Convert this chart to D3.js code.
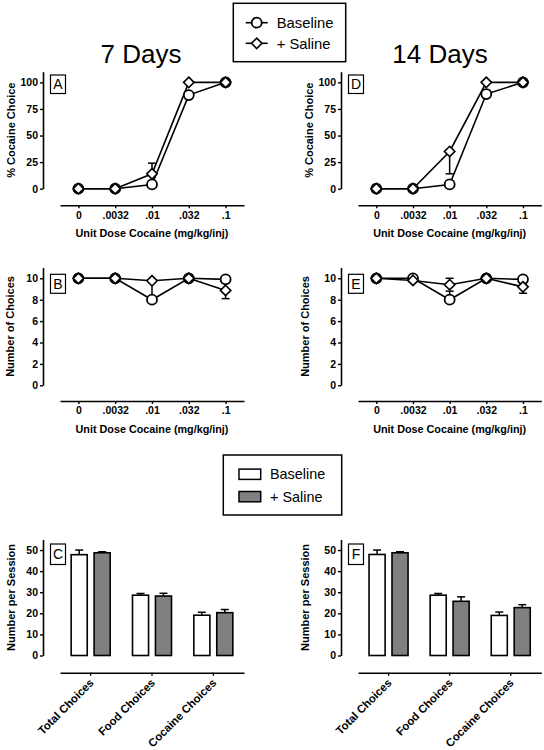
<!DOCTYPE html>
<html><head><meta charset="utf-8">
<script src="https://cdn.jsdelivr.net/npm/d3@7"></script>
<style>
body{margin:0;background:#fff}
svg{display:block}
text{font-family:"Liberation Sans",Arial,Helvetica,sans-serif}
</style>
</head><body>
<svg id="chart" width="544" height="750"></svg>
<script>
// ---------- DATA ----------
const doses = ["0", ".0032", ".01", ".032", ".1"];
const seriesNames = ["Baseline", "+ Saline"];
const periodTitles = ["7 Days", "14 Days"];

// % cocaine choice
const pctBase7 = [0, 0, 4, 88, 100];
const pctSal7 = [0, 0, 14, 100, 100];
const pctBaseErr7 = [0, 0, 0, 0, 0];
const pctSalErr7 = [0, 0, 10, 0, 0];
const pctBase14 = [0, 0, 4, 89, 100];
const pctSal14 = [0, 0, 35, 100, 100];
const pctBaseErr14 = [0, 0, 0, 0, 0];
const pctSalErr14 = [0, 0, -21, 0, 0];

// number of choices
const numBase7 = [10, 10, 8, 10, 9.9];
const numSal7 = [10, 10, 9.77, 10, 8.87];
const numBaseErr7 = [0, 0, 1.7, 0, 0];
const numSalErr7 = [0, 0, 0, 0, -0.77];
const numBase14 = [10, 10, 8, 10, 9.9];
const numSal14 = [10, 9.8, 9.4, 10, 9.2];
const numBaseErr14 = [0, 0, 0.8, 0, 0];
const numSalErr14 = [0, 0, 0.6, 0, -0.6];

// number per session
const choiceTypes = ["Total Choices", "Food Choices", "Cocaine Choices"];
const sessBase7 = [47.8, 28.6, 19.1];
const sessBaseErr7 = [2.2, 0.8, 1.4];
const sessSal7 = [48.7, 28.2, 20.3];
const sessSalErr7 = [0.5, 1.3, 1.5];
const sessBase14 = [47.9, 28.6, 19.0];
const sessBaseErr14 = [2.1, 0.8, 1.6];
const sessSal14 = [48.7, 25.7, 22.7];
const sessSalErr14 = [0.5, 2.1, 1.4];

const pctTicks = [0, 25, 50, 75, 100];
const numTicks = [0, 2, 4, 6, 8, 10];
const sessTicks = [0, 10, 20, 30, 40, 50];

const xAxisTitle = "Unit Dose Cocaine (mg/kg/inj)";
const yTitles = ["% Cocaine Choice", "Number of Choices", "Number per Session"];

// ---------- LAYOUT ----------
const FONT = '"Liberation Sans",Arial,Helvetica,sans-serif';
const svg = d3.select("#chart");
const cols = [
  {ax: 43, x0: 60, x1: 244},
  {ax: 341, x0: 358, x1: 541.3}
];
const rows = {
  pct:  {y0: 188.7, yTop: 71.7, max: 110, xAxisY: 205.3, boxY: 75, boxH: 18.5},
  num:  {y0: 385.3, yTop: 267.6, max: 11, xAxisY: 401, boxY: 274.3, boxH: 19},
  sess: {y0: 655.5, yTop: 539.5, max: 55, xAxisY: 672.7, boxY: 544, boxH: 20.5}
};
const titleOffsets = {pct: [31.5, 32], num: [33, 36], sess: [32, 36]};

function styleAxis(g) {
  g.selectAll("path.domain").attr("stroke", "#000").attr("stroke-width", 1.6);
  g.selectAll(".tick line").attr("stroke", "#000").attr("stroke-width", 1.4);
  g.selectAll(".tick text").attr("fill", "#000").attr("font-family", FONT)
    .attr("font-weight", "bold").attr("font-size", 10.5);
}

function yAxisFor(rowKey, col, ticks, colIdx) {
  const r = rows[rowKey];
  const y = d3.scaleLinear().domain([0, r.max]).range([r.y0, r.yTop]);
  const g = svg.append("g").attr("transform", `translate(${col.ax},0)`)
    .call(d3.axisLeft(y).tickValues(ticks).tickSize(3).tickSizeOuter(0).tickPadding(2));
  styleAxis(g);
  const off = titleOffsets[rowKey][colIdx];
  const cy = (r.y0 + r.yTop) / 2;
  svg.append("text")
    .attr("transform", `translate(${col.ax - off},${cy}) rotate(-90)`)
    .attr("text-anchor", "middle").attr("dy", "0.35em")
    .attr("font-weight", "bold").attr("font-size", 11).attr("fill", "#000")
    .text(yTitles[["pct", "num", "sess"].indexOf(rowKey)]);
  return y;
}

function letterBox(col, rowKey, letter) {
  const r = rows[rowKey];
  const bx = col.ax + 7.5, bw = 15;
  svg.append("rect").attr("x", bx).attr("y", r.boxY).attr("width", bw).attr("height", r.boxH)
    .attr("fill", "#fff").attr("stroke", "#000").attr("stroke-width", 1.2);
  svg.append("text").attr("x", bx + bw / 2).attr("y", r.boxY + r.boxH / 2)
    .attr("dy", "0.36em").attr("text-anchor", "middle").attr("font-size", 14)
    .attr("fill", "#000").text(letter);
}

const diamond = (cx, cy, s) => `M${cx},${cy - s}L${cx + s},${cy}L${cx},${cy + s}L${cx - s},${cy}Z`;

function linePanel(colIdx, rowKey, letter, ticks, base, baseErr, sal, salErr) {
  const col = cols[colIdx], r = rows[rowKey];
  const x = d3.scalePoint().domain(doses).range([col.x0, col.x1]).padding(0.5);
  const y = yAxisFor(rowKey, col, ticks, colIdx);
  const gx = svg.append("g").attr("transform", `translate(0,${r.xAxisY})`)
    .call(d3.axisBottom(x).tickSize(3).tickSizeOuter(0).tickPadding(3));
  styleAxis(gx);
  svg.append("text").attr("x", (col.x0 + col.x1) / 2).attr("y", r.xAxisY + 32)
    .attr("text-anchor", "middle").attr("font-weight", "bold").attr("font-size", 10.8)
    .attr("fill", "#000").text(xAxisTitle);

  const line = d3.line().x((d, i) => x(doses[i])).y(d => y(d));
  [base, sal].forEach(vals => {
    svg.append("path").attr("d", line(vals)).attr("fill", "none")
      .attr("stroke", "#000").attr("stroke-width", 1.6);
  });
  // error bars
  [[base, baseErr], [sal, salErr]].forEach(([vals, errs]) => {
    errs.forEach((e, i) => {
      if (!e) return;
      const cx = x(doses[i]), ya = y(vals[i]), yb = y(vals[i] + e);
      svg.append("line").attr("x1", cx).attr("x2", cx).attr("y1", ya).attr("y2", yb)
        .attr("stroke", "#000").attr("stroke-width", 1.5);
      svg.append("line").attr("x1", cx - 4).attr("x2", cx + 4).attr("y1", yb).attr("y2", yb)
        .attr("stroke", "#000").attr("stroke-width", 1.5);
    });
  });
  // markers
  base.forEach((v, i) => {
    svg.append("circle").attr("cx", x(doses[i])).attr("cy", y(v)).attr("r", 5)
      .attr("fill", "#fff").attr("stroke", "#000").attr("stroke-width", 1.8);
  });
  sal.forEach((v, i) => {
    svg.append("path").attr("d", diamond(x(doses[i]), y(v), 5.2))
      .attr("fill", "#fff").attr("stroke", "#000").attr("stroke-width", 1.6);
  });
  letterBox(col, rowKey, letter);
}

function barPanel(colIdx, letter, base, baseErr, sal, salErr) {
  const col = cols[colIdx], r = rows.sess;
  const x = d3.scaleBand().domain(choiceTypes).range([col.x0, col.x1]).padding(0);
  const inner = d3.scaleBand().domain(seriesNames).range([-19.5, 19.5]).paddingInner(0.3);
  const y = yAxisFor("sess", col, sessTicks, colIdx);
  const gx = svg.append("g").attr("transform", `translate(0,${r.xAxisY})`)
    .call(d3.axisBottom(x).tickSize(3).tickSizeOuter(0).tickFormat(""));
  styleAxis(gx);
  choiceTypes.forEach(c => {
    const cx = x(c) + x.bandwidth() / 2;
    svg.append("text")
      .attr("transform", `translate(${cx + 1},${r.xAxisY + 8}) rotate(-45)`)
      .attr("text-anchor", "end").attr("dy", "0.35em")
      .attr("font-weight", "bold").attr("font-size", 11.3).attr("fill", "#000").text(c);
  });
  const fills = ["#fff", "#808080"];
  [[base, baseErr], [sal, salErr]].forEach(([vals, errs], s) => {
    vals.forEach((v, i) => {
      const cx = x(choiceTypes[i]) + x.bandwidth() / 2;
      const bx = cx + inner(seriesNames[s]);
      const bw = inner.bandwidth();
      const mid = bx + bw / 2;
      svg.append("line").attr("x1", mid).attr("x2", mid).attr("y1", y(v)).attr("y2", y(v + errs[i]))
        .attr("stroke", "#000").attr("stroke-width", 1.5);
      svg.append("line").attr("x1", mid - 4).attr("x2", mid + 4)
        .attr("y1", y(v + errs[i])).attr("y2", y(v + errs[i]))
        .attr("stroke", "#000").attr("stroke-width", 1.5);
      svg.append("rect").attr("x", bx).attr("y", y(v)).attr("width", bw).attr("height", y(0) - y(v))
        .attr("fill", fills[s]).attr("stroke", "#000").attr("stroke-width", 1.6);
    });
  });
  letterBox(col, "sess", letter);
}

// titles
[141, 440].forEach((cx, i) => {
  svg.append("text").attr("x", cx).attr("y", 63).attr("text-anchor", "middle")
    .attr("font-size", 26).attr("fill", "#000").text(periodTitles[i]);
});

// top legend
svg.append("rect").attr("x", 233.3).attr("y", 3.3).attr("width", 112.4).attr("height", 58.4)
  .attr("fill", "#fff").attr("stroke", "#000").attr("stroke-width", 1.5);
[22.7, 43.3].forEach((ly, i) => {
  svg.append("line").attr("x1", 245.7).attr("x2", 267.7).attr("y1", ly).attr("y2", ly)
    .attr("stroke", "#000").attr("stroke-width", 1.6);
  if (i === 0) svg.append("circle").attr("cx", 256.7).attr("cy", ly).attr("r", 5)
    .attr("fill", "#fff").attr("stroke", "#000").attr("stroke-width", 1.8);
  else svg.append("path").attr("d", diamond(256.7, ly, 5.2))
    .attr("fill", "#fff").attr("stroke", "#000").attr("stroke-width", 1.6);
  svg.append("text").attr("x", 276.7).attr("y", ly).attr("dy", "0.36em")
    .attr("font-size", 14.8).attr("fill", "#000").text(seriesNames[i]);
});

// middle legend
svg.append("rect").attr("x", 223.3).attr("y", 455).attr("width", 118.4).attr("height", 60)
  .attr("fill", "#fff").attr("stroke", "#000").attr("stroke-width", 1.5);
[474.3, 496.7].forEach((ly, i) => {
  svg.append("rect").attr("x", 239).attr("y", ly - 5.2).attr("width", 21.7).attr("height", 10.3)
    .attr("fill", ["#fff", "#808080"][i]).attr("stroke", "#000").attr("stroke-width", 1.5);
  svg.append("text").attr("x", 270).attr("y", ly).attr("dy", "0.36em")
    .attr("font-size", 14.4).attr("fill", "#000").text(seriesNames[i]);
});

linePanel(0, "pct", "A", pctTicks, pctBase7, pctBaseErr7, pctSal7, pctSalErr7);
linePanel(1, "pct", "D", pctTicks, pctBase14, pctBaseErr14, pctSal14, pctSalErr14);
linePanel(0, "num", "B", numTicks, numBase7, numBaseErr7, numSal7, numSalErr7);
linePanel(1, "num", "E", numTicks, numBase14, numBaseErr14, numSal14, numSalErr14);
barPanel(0, "C", sessBase7, sessBaseErr7, sessSal7, sessSalErr7);
barPanel(1, "F", sessBase14, sessBaseErr14, sessSal14, sessSalErr14);
</script>
</body></html>
